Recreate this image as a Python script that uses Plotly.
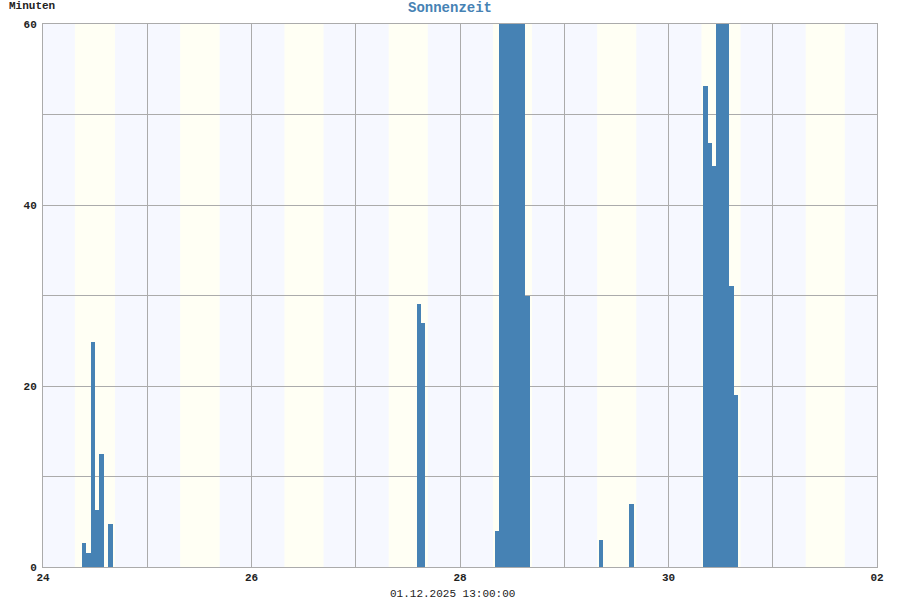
import plotly.graph_objects as go

# Hourly sunshine minutes (hour start timestamps)
times = [
    "2025-11-24 09:00", "2025-11-24 10:00", "2025-11-24 11:00", "2025-11-24 12:00",
    "2025-11-24 13:00", "2025-11-24 15:00",
    "2025-11-27 14:00", "2025-11-27 15:00",
    "2025-11-28 08:00", "2025-11-28 09:00", "2025-11-28 10:00", "2025-11-28 11:00",
    "2025-11-28 12:00", "2025-11-28 13:00", "2025-11-28 14:00", "2025-11-28 15:00",
    "2025-11-29 08:00", "2025-11-29 15:00",
    "2025-11-30 08:00", "2025-11-30 09:00", "2025-11-30 10:00", "2025-11-30 11:00",
    "2025-11-30 12:00", "2025-11-30 13:00", "2025-11-30 14:00", "2025-11-30 15:00",
]
minutes = [
    2.6, 1.6, 24.9, 6.3,
    12.5, 4.8,
    29.1, 27.0,
    4.0, 60, 60, 60,
    60, 60, 60, 30.0,
    3.0, 7.0,
    53.2, 46.8, 44.3, 60,
    60, 60, 31.1, 19.0,
]

days = ["2025-11-24", "2025-11-25", "2025-11-26", "2025-11-27",
        "2025-11-28", "2025-11-29", "2025-11-30", "2025-12-01"]
sunrise = ["07:20", "07:35", "07:35", "07:35", "07:35", "07:35", "07:35", "07:35"]
sunset = ["16:35", "16:40", "16:35", "16:35", "16:35", "16:35", "16:35", "16:35"]

x_start = "2025-11-24 00:00"
x_end = "2025-12-02 00:00"
x_tickvals = ["2025-11-24", "2025-11-26", "2025-11-28", "2025-11-30", "2025-12-02"]
x_ticktext = ["24", "26", "28", "30", "02"]
y_tickvals = [0, 20, 40, 60]

title = "Sonnenzeit"
y_title = "Minuten"
footer = "01.12.2025 13:00:00"

BAR = "#4682B4"
NIGHT = "#F6F8FF"
DAY = "#FFFFF4"
GRID = "#ABABAB"
FONT = "Liberation Mono"

fig = go.Figure()
fig.add_trace(go.Bar(
    x=times, y=minutes, width=3600000, offset=0,
    marker=dict(color=BAR, line=dict(width=0)),
    hoverinfo="x+y",
))

shapes = [dict(type="rect", xref="x", yref="paper", x0=x_start, x1=x_end, y0=0, y1=1,
               fillcolor=NIGHT, line=dict(width=0), layer="below")]
for d, sr, ss in zip(days, sunrise, sunset):
    shapes.append(dict(type="rect", xref="x", yref="paper",
                       x0=f"{d} {sr}", x1=f"{d} {ss}", y0=0, y1=1,
                       fillcolor=DAY, line=dict(width=0), layer="below"))

fig.update_layout(
    width=900, height=600,
    margin=dict(l=43, r=23, t=24, b=33, autoexpand=False),
    paper_bgcolor="white", plot_bgcolor="white",
    shapes=shapes,
    showlegend=False,
    bargap=0,
    title=dict(text=title, x=0.5, xanchor="center", y=0.997, yanchor="top",
               font=dict(family=FONT, size=14, color=BAR, weight="bold")),
    xaxis=dict(
        type="date", range=[x_start, x_end],
        tickmode="array", tickvals=x_tickvals, ticktext=x_ticktext,
        showgrid=True, gridcolor=GRID, gridwidth=1,
        minor=dict(dtick=86400000, showgrid=True, gridcolor=GRID, gridwidth=1,
                   tick0="2025-11-24"),
        showline=True, linecolor=GRID, linewidth=1, mirror=True,
        ticks="", ticklabelstandoff=0,
        tickfont=dict(family=FONT, size=11, color="#222", weight="bold"),
        zeroline=False,
    ),
    yaxis=dict(
        range=[0, 60], tickmode="array", tickvals=y_tickvals,
        showgrid=True, gridcolor=GRID, gridwidth=1,
        minor=dict(dtick=10, showgrid=True, gridcolor=GRID, gridwidth=1),
        showline=True, linecolor=GRID, linewidth=1, mirror=True,
        ticks="", ticklabelstandoff=3,
        tickfont=dict(family=FONT, size=11, color="#222", weight="bold"),
        zeroline=False,
    ),
    annotations=[
        dict(text=y_title, xref="paper", yref="paper", x=-0.043, y=1.018,
             xanchor="left", yanchor="bottom", showarrow=False,
             font=dict(family=FONT, size=11, color="#222", weight="bold")),
        dict(text=footer, xref="paper", yref="paper", x=0.491, y=-0.05,
             xanchor="center", yanchor="middle", showarrow=False,
             font=dict(family=FONT, size=11, color="#222")),
    ],
)

fig.write_html("out.html", config={"displayModeBar": False},
               post_script="document.body.style.margin='0';")
